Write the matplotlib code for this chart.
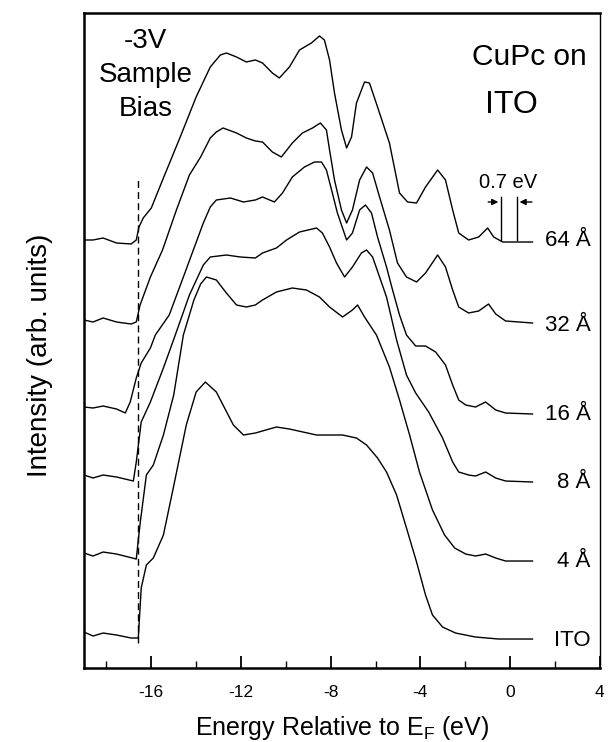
import numpy as np
import matplotlib.pyplot as plt
from matplotlib.ticker import MultipleLocator

plt.rcParams['font.family'] = ['Liberation Sans', 'DejaVu Sans']
plt.rcParams['axes.unicode_minus'] = False

# Spectra: energy (eV) and intensity (arb. units, offset)
e_64 = [-19.0, -18.6, -18.15, -17.55, -16.9, -16.67, -16.55, -16.36, -16.0, -15.46, -14.71, -14.0,
        -13.37, -12.92, -12.65, -12.2, -11.76, -11.36, -11.04, -10.6, -10.29, -9.84, -9.39, -8.86,
        -8.5, -8.28, -8.05, -7.83, -7.52, -7.29, -7.07, -6.85, -6.49, -6.27, -5.91, -5.38, -4.93,
        -4.57, -4.17, -3.77, -3.23, -2.88, -2.56, -2.29, -1.85, -1.4, -1.0, -0.73, -0.33, 0.25, 1.0]
i_64 = [42.8, 42.8, 43.0, 42.5, 42.4, 42.8, 44.1, 45.0, 46.0, 49.0, 53.1, 57.1,
        60.1, 61.3, 61.5, 61.1, 60.6, 60.8, 60.5, 59.5, 59.0, 60.1, 61.8, 62.5,
        63.2, 62.8, 60.8, 57.5, 53.8, 52.0, 53.1, 56.5, 58.6, 58.5, 56.1, 52.5, 47.5,
        46.6, 46.5, 48.1, 49.8, 48.8, 45.8, 43.5, 42.8, 43.1, 44.0, 43.1, 42.6, 42.6, 42.6]

e_32 = [-19.0, -18.6, -18.15, -17.55, -16.9, -16.67, -16.5, -16.04, -15.5, -14.88, -14.3, -13.8,
        -13.37, -13.1, -12.8, -12.2, -11.76, -11.36, -11.04, -10.6, -10.2, -9.71, -9.26, -8.81,
        -8.46, -8.19, -8.05, -7.83, -7.52, -7.29, -7.03, -6.71, -6.4, -6.13, -5.82, -5.38, -5.02,
        -4.62, -4.17, -3.77, -3.23, -2.88, -2.56, -2.29, -1.85, -1.4, -0.96, -0.64, -0.2, 1.0]
i_32 = [34.8, 34.6, 35.0, 34.6, 34.4, 34.6, 36.3, 39.1, 41.8, 45.8, 49.3, 51.1,
        53.0, 53.6, 54.0, 53.5, 53.0, 52.7, 52.6, 51.6, 51.1, 52.5, 53.5, 54.0,
        54.5, 53.8, 51.8, 48.8, 45.8, 44.5, 45.8, 48.8, 50.1, 49.5, 47.1, 43.8, 40.5,
        39.1, 38.6, 39.5, 41.3, 40.1, 37.8, 36.1, 35.5, 35.7, 36.4, 35.4, 34.7, 34.5]

e_16 = [-19.0, -18.6, -18.15, -17.55, -17.16, -16.94, -16.67, -16.45, -16.04, -15.82, -15.2, -14.57,
        -13.68, -13.37, -13.1, -12.47, -11.89, -11.36, -11.04, -10.51, -10.15, -9.71, -9.17, -8.72,
        -8.41, -8.19, -7.96, -7.7, -7.29, -7.03, -6.71, -6.45, -6.18, -5.91, -5.51, -5.24, -4.93,
        -4.62, -4.21, -3.77, -3.32, -2.88, -2.56, -2.29, -1.98, -1.54, -1.09, -0.64, -0.2, 1.0]
i_16 = [26.1, 26.0, 26.2, 25.9, 25.5, 26.6, 29.0, 30.5, 32.0, 33.3, 35.3, 39.1,
        44.5, 46.1, 46.8, 47.0, 46.6, 46.8, 47.1, 46.6, 47.5, 49.1, 50.1, 50.6,
        50.6, 49.8, 47.8, 45.5, 42.8, 43.5, 45.8, 46.3, 45.5, 43.1, 40.1, 37.8, 35.3,
        33.3, 32.2, 32.2, 31.6, 30.3, 28.3, 26.8, 26.3, 26.1, 26.6, 25.8, 25.5, 25.4]

e_8 = [-19.0, -18.6, -18.15, -17.55, -16.8, -16.67, -16.45, -16.04, -15.46, -14.93, -14.3, -13.68,
       -13.37, -12.65, -12.03, -11.36, -11.04, -10.42, -9.97, -9.39, -8.63, -8.37, -8.05, -7.74,
       -7.38, -7.03, -6.63, -6.4, -6.13, -5.82, -5.51, -5.06, -4.62, -4.21, -3.63, -3.01, -2.56,
       -2.29, -1.85, -1.54, -1.09, -0.64, -0.2, 1.0]
i_8 = [19.3, 19.0, 19.3, 19.1, 18.7, 20.6, 24.6, 26.6, 30.0, 33.3, 37.3, 40.3,
       41.1, 41.3, 41.1, 41.0, 41.5, 42.0, 42.8, 43.6, 44.0, 43.5, 42.1, 40.5,
       39.1, 40.1, 41.5, 41.8, 41.1, 39.1, 37.1, 32.8, 29.3, 27.5, 25.6, 23.0, 20.6,
       19.6, 19.3, 19.2, 19.6, 19.0, 18.7, 18.6]

e_4 = [-19.0, -18.6, -18.15, -17.55, -16.67, -16.58, -16.49, -16.22, -15.91, -15.46, -15.0, -14.57,
       -14.1, -13.8, -13.54, -13.1, -12.65, -12.2, -11.76, -11.36, -11.04, -10.42, -9.71, -9.08,
       -8.5, -8.05, -7.47, -7.03, -6.8, -6.49, -5.96, -5.38, -4.93, -4.48, -4.04, -3.46, -2.92,
       -2.47, -1.98, -1.54, -1.09, -0.64, -0.2, 1.0]
i_4 = [11.5, 11.2, 11.6, 11.4, 10.9, 12.8, 14.6, 19.3, 20.3, 23.3, 27.3, 33.3,
       36.8, 38.4, 39.1, 38.8, 37.5, 36.3, 36.1, 36.3, 36.8, 37.6, 38.0, 37.8,
       37.1, 36.1, 35.1, 35.8, 36.3, 35.1, 33.3, 30.1, 26.8, 23.3, 19.6, 15.8, 13.3,
       12.0, 11.4, 11.2, 11.4, 11.0, 10.7, 10.7]

e_ito = [-19.0, -18.6, -18.15, -17.55, -16.9, -16.58, -16.45, -16.22, -15.91, -15.46, -15.02, -14.44,
         -14.0, -13.59, -13.1, -12.34, -11.89, -11.36, -10.42, -9.84, -8.63, -7.47, -6.85, -6.4,
         -5.91, -5.51, -5.06, -4.62, -4.17, -3.77, -3.46, -3.01, -2.43, -1.54, -0.51, 1.0]
i_ito = [3.6, 3.2, 3.5, 3.3, 3.0, 3.0, 8.0, 10.3, 11.0, 13.3, 18.0, 24.3,
         27.6, 28.6, 27.6, 24.3, 23.3, 23.5, 24.1, 23.9, 23.3, 23.3, 23.0, 22.3,
         21.0, 19.6, 17.3, 14.0, 10.6, 7.3, 5.3, 4.1, 3.5, 3.1, 2.9, 2.9]

labels = ["64 Å", "32 Å", "16 Å", "8 Å", "4 Å", "ITO"]
label_y = [42.7, 34.3, 25.4, 18.6, 10.7, 2.8]

fig = plt.figure(figsize=(6.12, 7.42), dpi=100)
ax = fig.add_axes([0.1373, 0.0997, 0.8427, 0.8828])

for e, i in [(e_64, i_64), (e_32, i_32), (e_16, i_16), (e_8, i_8), (e_4, i_4), (e_ito, i_ito)]:
    ax.plot(e, i, color='black', lw=1.0)

for lab, y in zip(labels, label_y):
    ax.text(3.6, y, lab, ha='right', va='center', fontsize=16)

# onset marker
ax.plot([-16.58, -16.58], [2.5, 48.8], color='black', lw=1.0, ls=(0, (5, 3)))

ax.text(-16.25, 59.3, "-3V\nSample\nBias", ha='center', va='center', fontsize=20, linespacing=1.4)
ax.text(0.85, 61.1, "CuPc on", ha='center', va='center', fontsize=21.5)
ax.text(0.07, 56.3, "ITO", ha='center', va='center', fontsize=23)

# 0.7 eV shift marker
ax.text(-0.1, 48.5, "0.7 eV", ha='center', va='center', fontsize=14.5)
ax.plot([-0.4, -0.4], [42.8, 47.1], color='black', lw=1.0)
ax.plot([0.3, 0.3], [42.8, 47.1], color='black', lw=1.0)
ax.annotate("", xy=(-0.4, 46.6), xytext=(-1.1, 46.6),
            arrowprops=dict(arrowstyle='-|>', color='black', lw=1.0, mutation_scale=9))
ax.annotate("", xy=(0.3, 46.6), xytext=(1.1, 46.6),
            arrowprops=dict(arrowstyle='-|>', color='black', lw=1.0, mutation_scale=9))

ax.set_xlim(-19, 4)
ax.set_ylim(0, 65.5)
ax.set_xticks([-16, -12, -8, -4, 0, 4])
ax.xaxis.set_minor_locator(MultipleLocator(2))
ax.set_yticks([])
ax.tick_params(axis='x', direction='in', length=9, width=1.3, labelsize=12.5, pad=12)
ax.tick_params(axis='x', which='minor', direction='in', length=5, width=1.0)
for s in ['left', 'bottom', 'top']:
    ax.spines[s].set_linewidth(1.8)
ax.spines['right'].set_linewidth(1.0)

ax.set_xlabel("Energy Relative to E$_\\mathregular{F}$ (eV)", fontsize=18, labelpad=10)
fig.text(40 / 612, 1 - 355 / 742, "Intensity (arb. units)", rotation=90,
         ha='center', va='center', fontsize=20)

fig.savefig("out.png", dpi=100)
